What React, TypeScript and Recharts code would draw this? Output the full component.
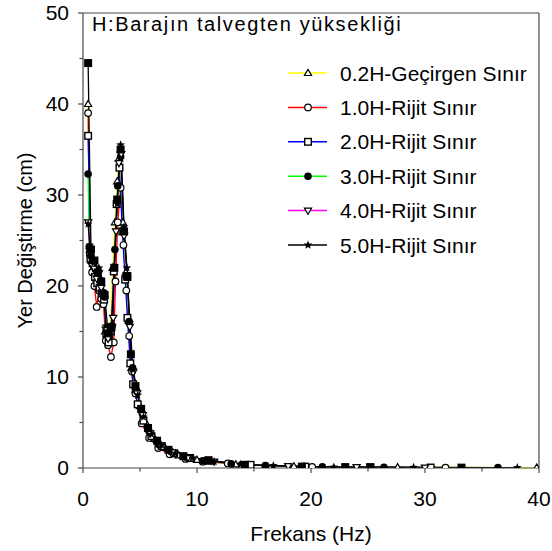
import React from "react";
import { LineChart, Line, XAxis, YAxis, ReferenceLine } from "recharts";

// series names / colours / markers
const seriesNames = [
  "0.2H-Geçirgen Sınır",
  "1.0H-Rijit Sınır",
  "2.0H-Rijit Sınır",
  "3.0H-Rijit Sınır",
  "4.0H-Rijit Sınır",
  "5.0H-Rijit Sınır",
];
const seriesColors = ["#ffff00", "#ff0000", "#0000ff", "#00ff00", "#ff00ff", "#000000"];
const seriesMarkers = ["triangle", "circle", "square", "dot", "invTriangle", "star"];

// frequency (Hz) and displacement (cm) per series
const f02 = [0.45, 0.6, 0.75, 0.9, 1.05, 1.2, 1.35, 1.5, 1.65, 1.8, 1.95, 2.1, 2.25, 2.4, 2.6, 2.8, 3.0, 3.15, 3.3, 3.5, 3.75, 4.0, 4.25, 4.6, 5.0, 5.5, 6.3, 7.2, 8.4, 10.0, 13.4, 18.5, 27.6, 39.8];
const v02 = [40.0, 24.0, 22.8, 22.0, 21.6, 20.8, 21.2, 20.2, 19.5, 18.7, 15.0, 14.6, 15.2, 15.4, 22.0, 27.0, 31.5, 34.0, 35.0, 27.0, 21.5, 16.2, 11.0, 8.6, 6.8, 5.0, 3.2, 2.2, 1.4, 0.9, 0.4, 0.18, 0.08, 0.04];

const f10 = [0.45, 0.6, 0.8, 1.0, 1.2, 1.4, 1.6, 1.8, 2.0, 2.2, 2.45, 2.7, 2.85, 3.05, 3.3, 3.55, 3.8, 4.05, 4.3, 4.6, 5.15, 5.8, 6.6, 7.6, 9.0, 10.5, 12.7, 16.0, 20.1, 31.8];
const v10 = [39.0, 23.5, 21.5, 20.0, 17.7, 19.5, 18.6, 18.0, 14.0, 13.5, 12.2, 13.8, 20.5, 27.0, 30.8, 24.5, 19.5, 14.5, 10.6, 8.2, 4.9, 3.3, 2.2, 1.5, 1.0, 0.7, 0.5, 0.25, 0.12, 0.04];

const f20 = [0.45, 0.65, 0.85, 1.05, 1.25, 1.45, 1.65, 1.85, 2.05, 2.25, 2.45, 2.7, 2.95, 3.2, 3.45, 3.7, 3.9, 4.15, 4.4, 4.8, 5.3, 6.0, 6.9, 8.0, 9.4, 11.0, 14.7, 19.5, 25.2, 30.5];
const v20 = [36.5, 23.0, 22.5, 21.0, 20.3, 19.8, 19.2, 18.5, 14.8, 13.8, 15.0, 21.6, 29.0, 33.0, 26.0, 20.7, 16.5, 11.5, 9.2, 7.0, 5.2, 3.5, 2.4, 1.6, 1.1, 0.8, 0.35, 0.15, 0.08, 0.05];

const f30 = [0.45, 0.55, 0.7, 0.9, 1.1, 1.3, 1.5, 1.7, 1.9, 2.1, 2.3, 2.55, 2.8, 3.05, 3.3, 3.55, 3.8, 4.05, 4.35, 4.7, 5.2, 5.8, 6.6, 7.7, 9.0, 10.5, 13.0, 16.0, 21.0, 26.4, 36.4];
const v30 = [32.3, 24.3, 23.3, 22.5, 21.8, 21.0, 20.6, 19.2, 18.8, 15.0, 14.4, 15.6, 24.0, 31.0, 34.2, 26.0, 21.0, 16.1, 11.0, 8.5, 6.0, 4.0, 2.6, 1.8, 1.2, 0.8, 0.45, 0.25, 0.12, 0.07, 0.04];

const f40 = [0.45, 0.6, 0.8, 1.0, 1.2, 1.4, 1.6, 1.8, 2.0, 2.2, 2.4, 2.65, 2.9, 3.15, 3.35, 3.6, 3.85, 4.1, 4.4, 4.75, 5.25, 5.9, 6.8, 7.9, 9.2, 11.5, 14.0, 18.0, 24.0, 30.0];
const v40 = [27.0, 23.8, 22.2, 21.9, 20.8, 21.4, 19.8, 19.0, 15.2, 14.2, 14.8, 16.5, 26.0, 33.5, 34.5, 25.5, 21.2, 15.5, 10.5, 8.2, 5.8, 3.8, 2.5, 1.7, 1.1, 0.7, 0.35, 0.2, 0.1, 0.05];

const f50 = [0.45, 0.6, 0.8, 1.0, 1.2, 1.4, 1.6, 1.8, 2.0, 2.2, 2.4, 2.6, 2.75, 3.0, 3.3, 3.6, 3.85, 4.1, 4.4, 4.8, 5.3, 6.0, 6.9, 8.1, 9.6, 11.5, 13.8, 16.7, 22.0, 29.0, 38.1];
const v50 = [26.8, 24.5, 23.0, 22.6, 21.5, 22.0, 20.4, 19.4, 15.6, 14.8, 15.3, 15.6, 22.2, 29.0, 35.5, 26.5, 22.0, 16.0, 10.8, 8.0, 5.6, 3.7, 2.5, 1.6, 1.1, 0.7, 0.4, 0.25, 0.1, 0.06, 0.04];

// unlabelled black series with filled squares
const fX = [0.45, 0.7, 1.0, 1.3, 1.6, 1.9, 2.2, 2.5, 2.75, 3.0, 3.3, 3.6, 3.9, 4.2, 4.6, 5.1, 5.7, 6.5, 7.5, 8.8, 11.0, 14.2, 19.2, 23.0, 25.2, 33.2];
const vX = [44.5, 24.0, 22.8, 21.5, 20.5, 19.0, 14.8, 15.5, 22.0, 29.5, 35.0, 26.0, 21.0, 12.5, 9.0, 6.5, 4.4, 3.0, 2.0, 1.3, 0.85, 0.35, 0.15, 0.1, 0.08, 0.04];

const xTicks = [0, 5, 10, 15, 20, 25, 30, 35, 40];
const yTicks = [0, 5, 10, 15, 20, 25, 30, 35, 40, 45, 50];

const toRows = (f: number[], v: number[]) => f.map((x, i) => ({ f: x, d: v[i] }));

const allSeries = [
  toRows(f02, v02),
  toRows(f10, v10),
  toRows(f20, v20),
  toRows(f30, v30),
  toRows(f40, v40),
  toRows(f50, v50),
];

const FONT = "'Liberation Sans', Arial, sans-serif";
const AXIS = "#484848";
const X_GAP = 23; // tickSize + tickMargin on x
const Y_GAP = 14; // tickSize + tickMargin on y

function Marker({ shape, cx, cy }: { shape: string; cx: number; cy: number }) {
  const s = 3.6;
  switch (shape) {
    case "triangle":
      return <polygon points={`${cx},${cy - s} ${cx - s},${cy + s * 0.7} ${cx + s},${cy + s * 0.7}`} fill="#fff" stroke="#000" strokeWidth={1.2} />;
    case "invTriangle":
      return <polygon points={`${cx},${cy + s} ${cx - s},${cy - s * 0.7} ${cx + s},${cy - s * 0.7}`} fill="#fff" stroke="#000" strokeWidth={1.2} />;
    case "circle":
      return <circle cx={cx} cy={cy} r={3.3} fill="#fff" stroke="#000" strokeWidth={1.2} />;
    case "square":
      return <rect x={cx - 3.3} y={cy - 3.3} width={6.6} height={6.6} fill="#fff" stroke="#000" strokeWidth={1.4} />;
    case "dot":
      return <circle cx={cx} cy={cy} r={3.8} fill="#000" />;
    case "fsquare":
      return <rect x={cx - 4} y={cy - 4} width={8} height={8} fill="#000" />;
    case "star": {
      const pts: string[] = [];
      for (let k = 0; k < 10; k++) {
        const r = k % 2 === 0 ? 4.6 : 2;
        const a = -Math.PI / 2 + (k * Math.PI) / 5;
        pts.push(`${cx + r * Math.cos(a)},${cy + r * Math.sin(a)}`);
      }
      return <polygon points={pts.join(" ")} fill="#000" />;
    }
    default:
      return null;
  }
}

const makeDot = (shape: string) => (props: any) => {
  const { cx, cy, index } = props;
  if (cx == null || cy == null) return <g key={`e-${shape}-${index}`} />;
  return (
    <g key={`m-${shape}-${index}`}>
      <Marker shape={shape} cx={cx} cy={cy} />
    </g>
  );
};

// major ticks long with a label, minor ticks short without
function XTick(props: any) {
  const { x, y, payload } = props;
  const major = payload.value % 10 === 0;
  const ay = y - X_GAP;
  return (
    <g>
      <line x1={x} x2={x} y1={ay} y2={ay + (major ? 5 : 3.5)} stroke={AXIS} strokeWidth={1.2} />
      {major && (
        <text x={x} y={y} dy="0.71em" textAnchor="middle" fontSize={21} fontFamily={FONT} fill="#000">
          {payload.value}
        </text>
      )}
    </g>
  );
}

function YTick(props: any) {
  const { x, y, payload } = props;
  const major = payload.value % 10 === 0;
  const ax = x + Y_GAP;
  return (
    <g>
      <line x1={ax} x2={ax - (major ? 5 : 3.5)} y1={y} y2={y} stroke={AXIS} strokeWidth={1.2} />
      {major && (
        <text x={x} y={y} dy="0.355em" textAnchor="end" fontSize={21} fontFamily={FONT} fill="#000">
          {payload.value}
        </text>
      )}
    </g>
  );
}

function LegendBox() {
  return (
    <svg width={260} height={210} style={{ position: "absolute", left: 288, top: 63, overflow: "visible" }}>
      {seriesNames.map((name, i) => {
        const y = 10 + i * 34.4;
        return (
          <g key={name}>
            <line x1={0} x2={39} y1={y} y2={y} stroke={seriesColors[i]} strokeWidth={1.5} />
            <Marker shape={seriesMarkers[i]} cx={20} cy={y} />
            <text x={52} y={y} dy="0.36em" fontSize={21} fontFamily={FONT} fill="#000">
              {name}
            </text>
          </g>
        );
      })}
    </svg>
  );
}

export default function App() {
  return (
    <div style={{ position: "absolute", left: 0, top: 0, width: 552, height: 551, background: "#fff" }}>
      <LineChart width={552} height={551} margin={{ top: 13, right: 13, left: 0, bottom: 0 }}>
        <XAxis
          dataKey="f"
          type="number"
          domain={[0, 40]}
          ticks={xTicks}
          allowDataOverflow
          height={83}
          tickSize={5}
          tickMargin={X_GAP - 5}
          tickLine={false}
          stroke={AXIS}
          strokeWidth={1.2}
          tick={<XTick />}
          label={{ value: "Frekans (Hz)", position: "insideBottom", offset: 10, fill: "#000", fontSize: 21, fontFamily: FONT }}
        />
        <YAxis
          dataKey="d"
          type="number"
          domain={[0, 50]}
          ticks={yTicks}
          allowDataOverflow
          width={83}
          tickSize={5}
          tickMargin={Y_GAP - 5}
          tickLine={false}
          stroke={AXIS}
          strokeWidth={1.2}
          tick={<YTick />}
          label={{
            value: "Yer Değiştirme (cm)",
            angle: -90,
            position: "insideLeft",
            offset: 25,
            fill: "#000",
            fontSize: 20,
            fontFamily: FONT,
            style: { textAnchor: "middle" },
          }}
        />
        <ReferenceLine y={50} stroke={AXIS} strokeWidth={1.2} />
        <ReferenceLine x={40} stroke={AXIS} strokeWidth={1.2} />
        {allSeries.map((rows, i) => (
          <Line
            key={seriesNames[i]}
            data={rows}
            dataKey="d"
            name={seriesNames[i]}
            type="linear"
            stroke={seriesColors[i]}
            strokeWidth={1.3}
            dot={makeDot(seriesMarkers[i])}
            activeDot={false}
            isAnimationActive={false}
          />
        ))}
        <Line
          data={toRows(fX, vX)}
          dataKey="d"
          name="extra"
          type="linear"
          stroke="#000"
          strokeWidth={1.3}
          dot={makeDot("fsquare")}
          activeDot={false}
          legendType="none"
          isAnimationActive={false}
        />
      </LineChart>
      <LegendBox />
      <div
        style={{
          position: "absolute",
          left: 92,
          top: 13,
          fontFamily: FONT,
          fontSize: 20,
          letterSpacing: 1.6,
          color: "#000",
          whiteSpace: "nowrap",
        }}
      >
        H:Barajın talvegten yüksekliği
      </div>
    </div>
  );
}
